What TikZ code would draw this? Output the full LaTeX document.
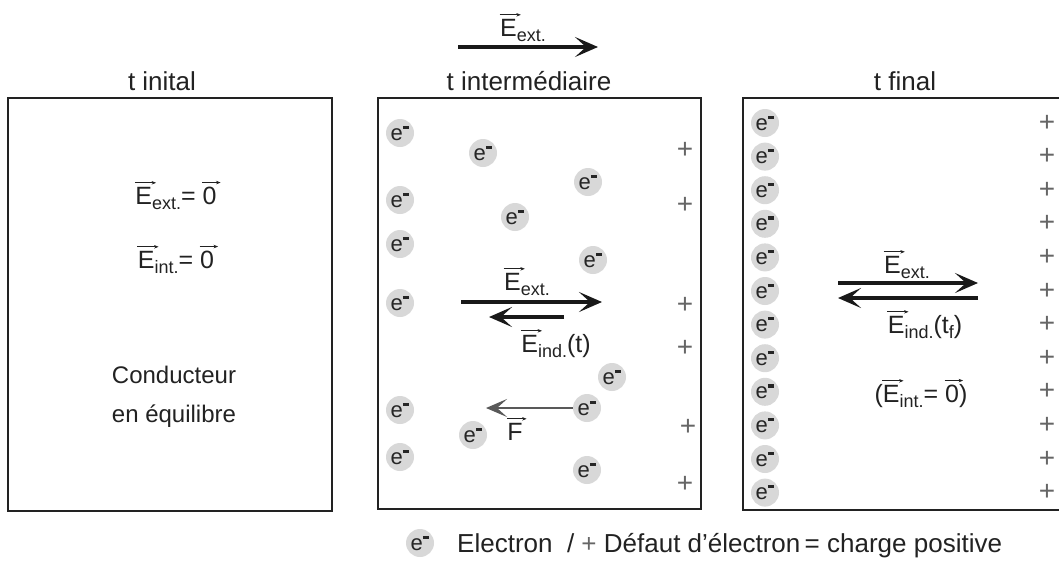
\documentclass[tikz,border=0pt]{standalone}
\usepackage{fontspec}
\setmainfont{Liberation Sans}
\usetikzlibrary{arrows.meta}
\newcommand\fsz[1]{\fontsize{#1}{#1}\selectfont}
\newcommand\elecsym{e\raisebox{0.52em}{\rule{0.3em}{0.14em}}}
\newcommand\vecarr[1]{\tikz[baseline=(v.base)]{\node[inner sep=0pt,outer sep=0pt] (v) {#1};
  \draw[overlay,line width=0.8pt,-{Stealth[length=4.5pt,width=3.5pt]}] ([shift={(-0.5pt,4pt)}]v.north west) -- ([shift={(4pt,4pt)}]v.north east);}}
\newcommand\subt[1]{\raisebox{-5pt}{\fsz{18}#1}}
\newcommand\vE[1]{\vecarr{E}\subt{#1}}
\newcommand\vZ{\vecarr{0}}
\definecolor{boxline}{HTML}{222222}
\definecolor{plusgray}{HTML}{666666}
\definecolor{elecfill}{HTML}{D8D8D8}
\definecolor{textdark}{HTML}{222222}
\tikzset{
  panel/.style={draw=boxline, line width=1.6pt, fill=none},
  lbl/.style={inner sep=0pt, text=textdark, font=\fsz{25}, anchor=base},
  ttl/.style={inner sep=0pt, text=textdark, font=\fsz{26}, anchor=base},
  elec/.style={circle, fill=elecfill, minimum size=28pt, inner sep=0pt, text=black!85, font=\fsz{22}},
  plus/.style={inner sep=0pt, text=plusgray, font=\fsz{28}},
  bigarrow/.style={line width=3.2pt, draw=black!90, -{Stealth[length=23pt,width=20pt,inset=11pt]}},
  farrow/.style={line width=2.6pt, draw=black!65, -{Stealth[length=21pt,width=18pt,inset=10pt]}},
}
\begin{document}
\begin{tikzpicture}[x=1pt,y=-1pt]
\useasboundingbox (0,0) rectangle (1059,560);
% panels
\draw[panel] (8,98) rectangle (332,511);
\draw[panel] (378,98) rectangle (701,509);
\draw[panel] (1065,98) -- (743,98) -- (743,510) -- (1065,510);
% titles
\node[ttl] (t1) at (162,90) {t inital};
\node[ttl] (t2) at (529,90) {t intermédiaire};
\node[ttl] (t3) at (905,90) {t final};
% top field arrow
\node[lbl] (Etop) at (523,36) {\vE{ext.}};
\coordinate (ta) at (458,47);
\coordinate (tb) at (598,47);
\draw[bigarrow] (ta) -- (tb);
% panel 1 texts
\node[lbl] (p1a) at (176,204) {\vE{ext.}= \vZ};
\node[lbl] (p1b) at (176,268) {\vE{int.}= \vZ};
\node[lbl, font=\fsz{24}] (p1c) at (174,383) {Conducteur};
\node[lbl, font=\fsz{24}] (p1d) at (174,422) {en équilibre};
% panel 2 electrons
\foreach \n/\x/\y in {a/400/133, b/483/153, c/588/182, d/400/200, e/515/217, f/400/244, g/593/260, h/400/303, i/612/377, j/400/410, k/587/408, l/473/435, m/400/457, n/587/470}
  \node[elec] (e2\n) at (\x,\y) {\elecsym};
% panel 2 pluses
\foreach \n/\x/\y in {a/685/150, b/685/205, c/685/305, d/685/348, e/688/427, f/685/484}
  \node[plus] (p2\n) at (\x,\y) {+};
% panel 2 arrows
\node[lbl] (E2ext) at (527,290) {\vE{ext.}};
\coordinate (a2a) at (461,302);
\coordinate (a2b) at (602,302);
\draw[bigarrow] (a2a) -- (a2b);
\coordinate (a2c) at (564,317);
\coordinate (a2d) at (489,317);
\draw[bigarrow] (a2c) -- (a2d);
\node[lbl] (E2ind) at (556,352) {\vE{ind.}(t)};
\coordinate (fend) at (486,408);
\draw[farrow] (e2k.west) -- (fend);
\node[lbl] (Flbl) at (515,440) {\vecarr{F}};
% panel 3 electrons and pluses
\foreach \i in {0,...,11}{
  \node[elec] (e3\i) at (765,{123+33.6*\i}) {\elecsym};
  \node[plus] (p3\i) at (1047,{123+33.6*\i}) {+};
}
% panel 3 arrows
\node[lbl] (E3ext) at (907,273) {\vE{ext.}};
\coordinate (a3a) at (838,283);
\coordinate (a3b) at (978,283);
\draw[bigarrow] (a3a) -- (a3b);
\coordinate (a3c) at (978,298);
\coordinate (a3d) at (838,298);
\draw[bigarrow] (a3c) -- (a3d);
\node[lbl] (E3ind) at (925,333) {\vE{ind.}(t\subt{f})};
\node[lbl] (E3int) at (921,402) {(\vE{int.}= \vZ)};
% legend
\node[elec] (leg) at (420,543) {\elecsym};
\node[lbl, anchor=base west, font=\fsz{26}] (legtxt) at (457,552) {Electron \ / {\color{plusgray}+} Défaut d'électron\,= charge positive};
\end{tikzpicture}
\end{document}
